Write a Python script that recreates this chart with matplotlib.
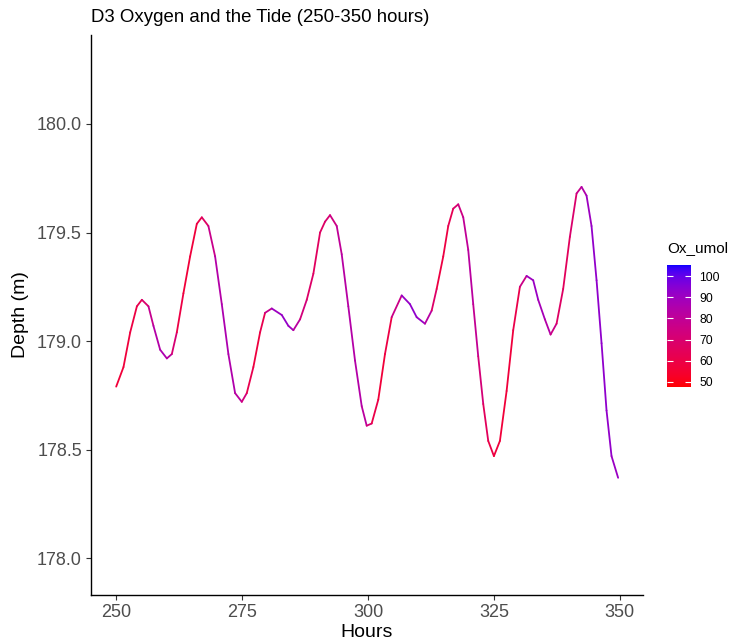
import numpy as np
import matplotlib
matplotlib.use("Agg")
import matplotlib.pyplot as plt
from matplotlib.collections import LineCollection
from matplotlib.colors import ListedColormap, Normalize
from matplotlib.cm import ScalarMappable

plt.rcParams['font.family'] = ['Liberation Sans', 'DejaVu Sans']

# ---- data ----
hours = [250.0, 251.45, 252.78, 254.11, 255.10, 256.41, 257.40, 258.73, 260.06, 261.05,
         262.04, 263.35, 264.68, 266.01, 267.00, 268.31, 269.64, 270.97, 272.28, 273.61,
         274.94, 275.93, 277.24, 278.57, 279.56, 280.89, 282.88, 284.19, 285.18, 286.51,
         287.84, 289.15, 290.48, 291.47, 292.46, 293.79, 294.78, 296.09, 297.42, 298.75,
         299.74, 300.73, 302.04, 303.37, 304.70, 306.69, 308.33, 309.66, 311.31, 312.64,
         313.63, 314.94, 315.93, 316.92, 317.92, 318.91, 319.90, 320.89, 321.88, 322.88,
         323.87, 325.00, 326.19, 327.52, 328.83, 330.16, 331.49, 332.80, 333.79, 335.12,
         336.25, 337.44, 338.75, 340.08, 341.41, 342.40, 343.39, 344.38, 345.38, 346.37,
         347.36, 348.35, 349.66]
depth = [178.79, 178.88, 179.04, 179.16, 179.19, 179.16, 179.07, 178.96, 178.92, 178.94,
         179.04, 179.22, 179.39, 179.54, 179.57, 179.53, 179.39, 179.17, 178.94, 178.76,
         178.72, 178.76, 178.88, 179.04, 179.13, 179.15, 179.12, 179.07, 179.05, 179.10,
         179.19, 179.31, 179.50, 179.55, 179.58, 179.53, 179.40, 179.16, 178.91, 178.70,
         178.61, 178.62, 178.73, 178.94, 179.11, 179.21, 179.17, 179.11, 179.08, 179.14,
         179.24, 179.39, 179.53, 179.61, 179.63, 179.57, 179.42, 179.17, 178.93, 178.71,
         178.54, 178.47, 178.54, 178.77, 179.05, 179.25, 179.30, 179.28, 179.19, 179.10,
         179.03, 179.08, 179.24, 179.48, 179.68, 179.71, 179.67, 179.53, 179.28, 178.99,
         178.68, 178.47, 178.37]
ox_umol = [57, 57, 58, 60, 64, 74, 82, 86, 86, 80,
           62, 57, 57, 58, 62, 72, 82, 86, 86, 84,
           80, 66, 58, 58, 66, 88, 92, 92, 88, 76,
           70, 66, 66, 68, 72, 78, 82, 84, 84, 84,
           80, 64, 57, 57, 62, 90, 93, 93, 90, 76,
           60, 58, 60, 66, 72, 78, 82, 82, 76, 68,
           62, 58, 57, 57, 58, 64, 88, 92, 90, 86,
           82, 70, 64, 66, 72, 82, 88, 92, 93, 93,
           93, 92, 90]
ox_limits = (47.6, 105.2)
x_ticks = [250, 275, 300, 325, 350]
y_ticks = [178.0, 178.5, 179.0, 179.5, 180.0]
legend_ticks = [50, 60, 70, 80, 90, 100]


# ---- ggplot-like red->blue gradient interpolated in Lab ----
def srgb_to_lab(rgb):
    rgb = np.asarray(rgb, float)
    lin = np.where(rgb <= 0.04045, rgb / 12.92, ((rgb + 0.055) / 1.055) ** 2.4)
    M = np.array([[0.4124, 0.3576, 0.1805], [0.2126, 0.7152, 0.0722], [0.0193, 0.1192, 0.9505]])
    xyz = M @ lin
    xyz = xyz / np.array([0.95047, 1.0, 1.08883])
    f = np.where(xyz > 0.008856, np.cbrt(xyz), 7.787 * xyz + 16 / 116)
    return np.array([116 * f[1] - 16, 500 * (f[0] - f[1]), 200 * (f[1] - f[2])])


def lab_to_srgb(lab):
    L, a, b = lab
    fy = (L + 16) / 116
    fx = fy + a / 500
    fz = fy - b / 200
    f = np.array([fx, fy, fz])
    xyz = np.where(f ** 3 > 0.008856, f ** 3, (f - 16 / 116) / 7.787)
    xyz = xyz * np.array([0.95047, 1.0, 1.08883])
    Minv = np.array([[3.2406, -1.5372, -0.4986], [-0.9689, 1.8758, 0.0415], [0.0557, -0.2040, 1.0570]])
    lin = Minv @ xyz
    lin = np.clip(lin, 0, 1)
    rgb = np.where(lin <= 0.0031308, 12.92 * lin, 1.055 * lin ** (1 / 2.4) - 0.055)
    return np.clip(rgb, 0, 1)


lab_lo = srgb_to_lab([1, 0, 0])
lab_hi = srgb_to_lab([0, 0, 1])
cols = [lab_to_srgb(lab_lo + t * (lab_hi - lab_lo)) for t in np.linspace(0, 1, 256)]
cmap = ListedColormap(cols)
norm = Normalize(vmin=ox_limits[0], vmax=ox_limits[1])

# ---- figure ----
fig = plt.figure(figsize=(7.3, 6.42), dpi=100)
ax = fig.add_axes([91 / 730, 1 - 595 / 642, (643 - 91) / 730, (595 - 35) / 642])

x = np.asarray(hours)
y = np.asarray(depth)
o = np.asarray(ox_umol, float)
pts = np.column_stack([x, y]).reshape(-1, 1, 2)
segs = np.concatenate([pts[:-1], pts[1:]], axis=1)
lc = LineCollection(segs, cmap=cmap, norm=norm, linewidths=1.3, capstyle='round', joinstyle='round')
lc.set_array((o[:-1] + o[1:]) / 2)
ax.add_collection(lc)

ax.set_xlim(245.0, 354.6)
ax.set_ylim(177.83, 180.41)
ax.set_xticks(x_ticks)
ax.set_xticklabels([str(t) for t in x_ticks])
ax.set_yticks(y_ticks)
ax.set_yticklabels([f"{t:.1f}" for t in y_ticks])

for s in ['top', 'right']:
    ax.spines[s].set_visible(False)
for s in ['left', 'bottom']:
    ax.spines[s].set_linewidth(1.0)
    ax.spines[s].set_color('black')
ax.tick_params(axis='both', length=3.5, width=0.8, color='#333333',
               labelcolor='#4D4D4D', labelsize=13, pad=3)

ax.set_xlabel('Hours', fontsize=14, labelpad=2)
ax.set_ylabel('Depth (m)', fontsize=14, labelpad=6)
ax.set_title('D3 Oxygen and the Tide (250-350 hours)', fontsize=13.4, loc='left', pad=9)

# ---- colorbar legend ----
cax = fig.add_axes([667 / 730, 1 - 387 / 642, 24 / 730, 122 / 642])
cb = fig.colorbar(ScalarMappable(norm=norm, cmap=cmap), cax=cax, ticks=legend_ticks)
cb.outline.set_visible(False)
cax.tick_params(axis='y', direction='in', length=4, width=0.8, color='white',
                labelsize=8.8, labelcolor='black', pad=6, left=True, right=True)
cax.set_yticklabels([str(t) for t in legend_ticks])
fig.text(667 / 730, 1 - 248 / 642, 'Ox_umol', fontsize=11, ha='left', va='center')

fig.savefig('out.png', dpi=100)
